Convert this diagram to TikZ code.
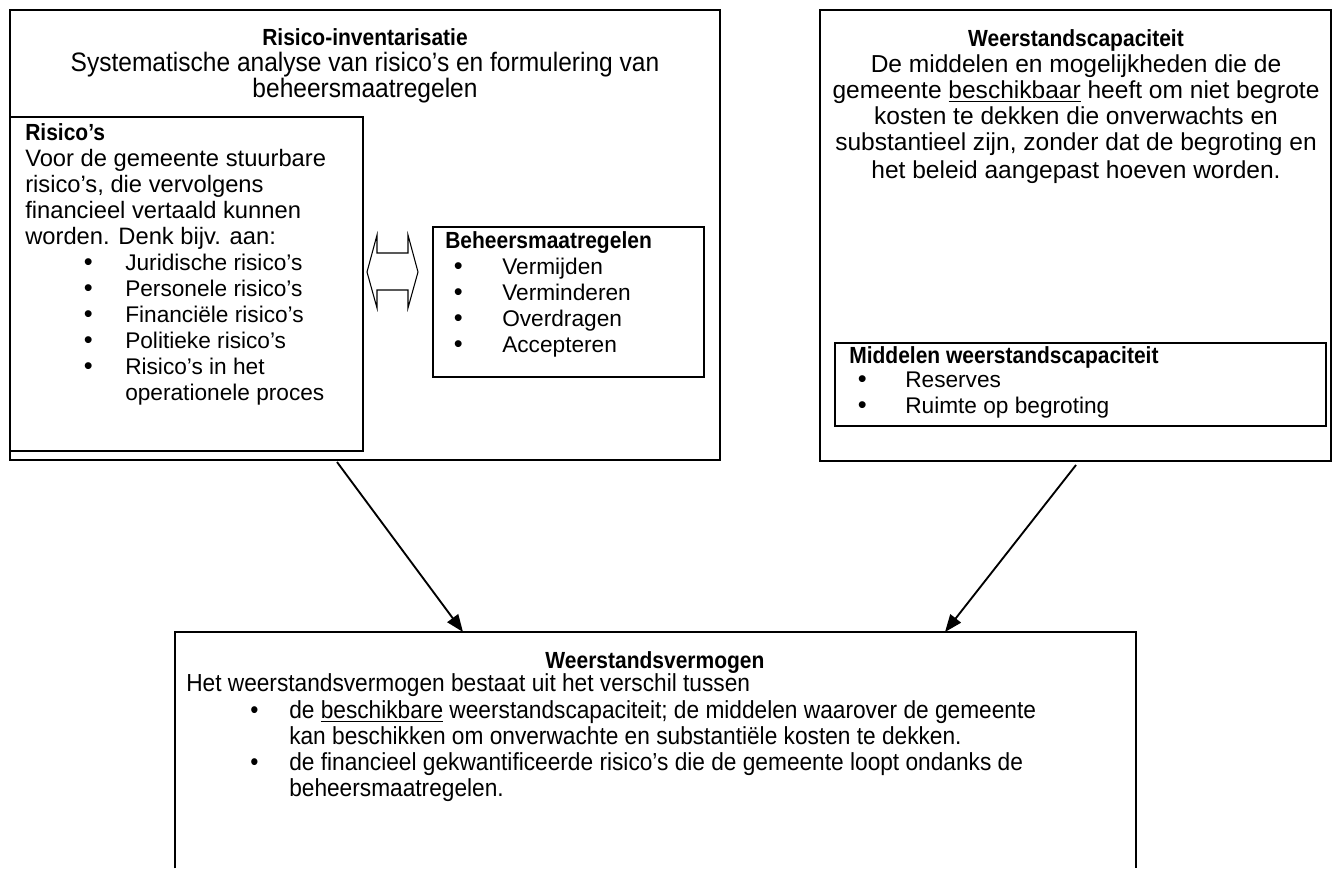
\documentclass[tikz,border=0pt]{standalone}
\usepackage{fontspec}
\setmainfont{Liberation Sans}
\newfontfamily\ttlfont[FakeStretch=0.9]{Liberation Sans}
\newfontfamily\narrowfont[FakeStretch=0.92]{Liberation Sans}
\usetikzlibrary{arrows.meta,fit}
\newcommand\bodyfs{\fontsize{17pt}{19.5pt}\selectfont}
\newcommand\widefs{\fontsize{18.4pt}{19.5pt}\selectfont}
\newcommand\riskfs{\fontsize{17.8pt}{19.5pt}\selectfont}
\newcommand\narrowfs{\narrowfont\fontsize{20pt}{19.5pt}\selectfont}
\newcommand\narrowbfs{\narrowfont\fontsize{18.5pt}{19.5pt}\selectfont}
\newcommand\bigbul{\smash{\fontsize{19pt}{0pt}\selectfont\textbullet}}
\newcommand\bitem[3]{\makebox[#2][l]{\hspace*{#1}\bigbul}#3}
\newcommand\ttl[1]{{\ttlfont\fontsize{17.5pt}{19.5pt}\selectfont\bfseries #1}}
\begin{document}
\begin{tikzpicture}[x=0.75pt,y=-0.75pt,
  box/.style={draw, line width=1.5pt, inner sep=0pt},
  txt/.style={inner sep=0pt, font=\bodyfs},
  conn/.style={line width=1.4pt, -{Triangle[length=13pt,width=10pt]}}]
\useasboundingbox (0,0) rectangle (1333,868);
\fill[white] (0,0) rectangle (1333,868);

% boxes
\node[box, fit={(10,10) (720,460)}] (ri) {};
\node[box, fill=white, fit={(10,117) (363,451)}] (rs) {};
\node[box, fit={(433,227) (704,377)}] (bm) {};
\node[box, fit={(820,10) (1331,461)}] (wc) {};
\node[box, fit={(835,343) (1326,426)}] (mw) {};
\node[inner sep=0pt, fit={(175,632) (1136,868)}] (wv) {};
\draw[line width=1.5pt] (wv.south west) -- (wv.north west) -- (wv.north east) -- (wv.south east);

% double arrow between Risico's and Beheersmaatregelen
\draw[line width=0.8pt, line join=miter]
  (367,272) -- (377,235) -- (377,253) -- (408,253) -- (408,235) -- (418,272)
  -- (408,308) -- (408,290) -- (377,290) -- (377,308) -- cycle;

% texts
\node[txt, anchor=north, align=center] (ritxt) at (365,28.8)
  {\ttl{Risico-inventarisatie}\\\narrowfs Systematische analyse van risico’s en formulering van\\\narrowfs beheersmaatregelen};

\node[txt, anchor=north west, align=left] (rstxt) at (25,123.8)
  {\ttl{Risico’s}\\\riskfs Voor de gemeente stuurbare\\\riskfs risico’s, die vervolgens\\\riskfs financieel vertaald kunnen\\\riskfs worden. Denk bijv. aan:\\
   \bitem{44pt}{75pt}{Juridische risico’s}\\
   \bitem{44pt}{75pt}{Personele risico’s}\\
   \bitem{44pt}{75pt}{Financiële risico’s}\\
   \bitem{44pt}{75pt}{Politieke risico’s}\\
   \bitem{44pt}{75pt}{Risico’s in het}\\
   \hspace*{75pt}operationele proces};

\node[txt, anchor=north west, align=left] (bmtxt) at (445,231.8)
  {\ttl{Beheersmaatregelen}\\
   \bitem{6.5pt}{42.75pt}{Vermijden}\\
   \bitem{6.5pt}{42.75pt}{Verminderen}\\
   \bitem{6.5pt}{42.75pt}{Overdragen}\\
   \bitem{6.5pt}{42.75pt}{Accepteren}};

\node[txt, anchor=north, align=center] (wctxt) at (1076,29.8)
  {\ttl{Weerstandscapaciteit}\\\widefs De middelen en mogelijkheden die de\\\widefs gemeente \underline{beschikbaar} heeft om niet begrote\\\widefs kosten te dekken die onverwachts en\\\widefs substantieel zijn, zonder dat de begroting en\\[1pt]\widefs het beleid aangepast hoeven worden.};

\node[txt, anchor=north west, align=left] (mwtxt) at (849,346.8)
  {\ttl{Middelen weerstandscapaciteit}\\[-1.5pt]
   \bitem{6.5pt}{42pt}{Reserves}\\
   \bitem{6.5pt}{42pt}{Ruimte op begroting}};

\node[txt, anchor=north] (wvttl) at (655,651.8) {\ttl{Weerstandsvermogen}};
\node[txt, anchor=north west, align=left] (wvtxt) at (186,673.8)
  {\narrowbfs Het weerstandsvermogen bestaat uit het verschil tussen\\[0.75pt]
   \narrowbfs\bitem{48pt}{77.25pt}{de \underline{beschikbare} weerstandscapaciteit; de middelen waarover de gemeente}\\
   \narrowbfs\hspace*{77.25pt}kan beschikken om onverwachte en substantiële kosten te dekken.\\
   \narrowbfs\bitem{48pt}{77.25pt}{de financieel gekwantificeerde risico’s die de gemeente loopt ondanks de}\\
   \narrowbfs\hspace*{77.25pt}beheersmaatregelen.};

% connectors
\coordinate (a1s) at (337,462);
\coordinate (a1e) at (463,632);
\coordinate (a2s) at (1076,465);
\coordinate (a2e) at (945,632);
\draw[conn] (a1s) -- (a1e);
\draw[conn] (a2s) -- (a2e);
\end{tikzpicture}
\end{document}
